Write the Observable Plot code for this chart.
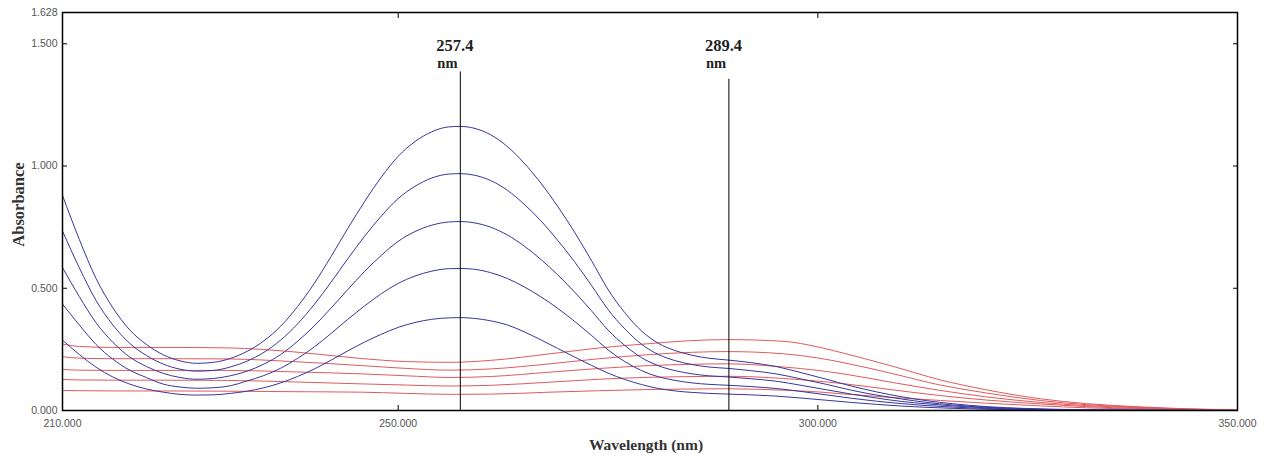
<!DOCTYPE html>
<html><head><meta charset="utf-8">
<script src="https://cdn.jsdelivr.net/npm/d3@7"></script>
<script src="https://cdn.jsdelivr.net/npm/@observablehq/plot@0.6"></script>
<style>body{margin:0;background:#fff}</style>
</head><body><div id="chart"></div>
<script>
// Wavelength grid (nm) for the blue spectra
const wavelengths = [210,212,214,216,218,220,222,224,226,228,230,232,234,236,238,240,242,244,246,248,250,252,254,256,257.4,259,261,263,265,267,269,271,273,275,277,279,281,283,285,287,289.4,292,295,298,301,304,307,310,313,316,320,325,330,340,350];
const blue1 = [0.880,0.700,0.540,0.420,0.330,0.270,0.228,0.203,0.193,0.197,0.213,0.242,0.285,0.345,0.425,0.520,0.630,0.745,0.855,0.955,1.040,1.100,1.140,1.160,1.162,1.155,1.128,1.080,1.012,0.930,0.835,0.730,0.615,0.495,0.400,0.325,0.275,0.245,0.226,0.214,0.206,0.196,0.180,0.155,0.128,0.100,0.076,0.056,0.040,0.028,0.016,0.008,0.004,0.001,0.000];
const blue2 = [0.734,0.584,0.450,0.350,0.275,0.225,0.190,0.169,0.161,0.164,0.178,0.202,0.238,0.288,0.354,0.434,0.525,0.621,0.713,0.796,0.867,0.917,0.951,0.967,0.969,0.963,0.941,0.901,0.844,0.776,0.696,0.609,0.513,0.413,0.334,0.271,0.229,0.204,0.188,0.178,0.172,0.163,0.150,0.129,0.107,0.083,0.063,0.047,0.033,0.023,0.013,0.007,0.003,0.001,0.000];
const blue3 = [0.585,0.466,0.359,0.279,0.219,0.180,0.152,0.135,0.128,0.131,0.142,0.161,0.190,0.229,0.283,0.346,0.419,0.495,0.569,0.635,0.692,0.732,0.758,0.771,0.773,0.768,0.750,0.718,0.673,0.618,0.555,0.485,0.409,0.329,0.266,0.216,0.183,0.163,0.150,0.142,0.137,0.130,0.120,0.103,0.085,0.067,0.051,0.037,0.027,0.019,0.011,0.005,0.003,0.001,0.000];
const blue4 = [0.435,0.350,0.270,0.210,0.165,0.135,0.108,0.096,0.091,0.093,0.101,0.121,0.143,0.173,0.213,0.260,0.315,0.373,0.428,0.478,0.520,0.550,0.570,0.580,0.581,0.578,0.564,0.540,0.506,0.465,0.418,0.365,0.308,0.248,0.200,0.163,0.138,0.123,0.113,0.107,0.103,0.098,0.090,0.078,0.064,0.050,0.038,0.028,0.020,0.014,0.008,0.004,0.002,0.001,0.000];
const blue5 = [0.288,0.229,0.177,0.137,0.108,0.088,0.075,0.066,0.063,0.064,0.070,0.079,0.093,0.113,0.139,0.170,0.206,0.244,0.280,0.312,0.340,0.360,0.373,0.379,0.380,0.377,0.367,0.350,0.322,0.289,0.254,0.219,0.185,0.153,0.127,0.106,0.090,0.080,0.074,0.070,0.067,0.064,0.059,0.051,0.042,0.033,0.025,0.018,0.013,0.009,0.005,0.003,0.001,0.000,0.000];

// Wavelength grid (nm) for the red spectra
const redWavelengths = [210,212,216,222,229.7,237.5,245.5,251,256.2,261,268.1,274,280.1,285,289.2,295.9,300,303,309,314.6,320,326.5,332,338.4,344,350];
const red1 = [0.272,0.262,0.258,0.258,0.256,0.240,0.213,0.200,0.197,0.205,0.232,0.256,0.274,0.286,0.290,0.283,0.260,0.235,0.180,0.125,0.085,0.048,0.028,0.015,0.007,0.003];
const red2 = [0.220,0.214,0.212,0.212,0.211,0.200,0.184,0.172,0.165,0.170,0.191,0.212,0.229,0.238,0.241,0.232,0.215,0.196,0.150,0.104,0.072,0.041,0.024,0.013,0.006,0.002];
const red3 = [0.168,0.165,0.164,0.164,0.164,0.158,0.150,0.142,0.135,0.139,0.157,0.172,0.184,0.189,0.191,0.178,0.164,0.150,0.114,0.082,0.056,0.033,0.020,0.011,0.005,0.002];
const red4 = [0.127,0.125,0.124,0.124,0.123,0.117,0.109,0.104,0.100,0.103,0.116,0.128,0.136,0.139,0.140,0.131,0.120,0.110,0.084,0.061,0.043,0.027,0.016,0.008,0.004,0.001];
const red5 = [0.082,0.081,0.080,0.080,0.079,0.077,0.075,0.070,0.066,0.067,0.075,0.081,0.086,0.088,0.089,0.083,0.076,0.068,0.053,0.041,0.030,0.019,0.011,0.006,0.003,0.001];

// Marker lines
const markerWavelengths = [257.4, 289.4];
const markerTops = [1.385, 1.355];
const markerLabelY = 1.4;

// Axis ticks
const xTicks = [210, 250, 300, 350];
const yTicks = [0, 0.5, 1.0, 1.5, 1.628];
const yInnerTicks = [0.5, 1.0, 1.5];
const xInnerTicks = [250, 300];

const blueColor = "#36369c";
const redColor = "#e05a5c";

const blueRows = [blue1, blue2, blue3, blue4, blue5].flatMap((vals, i) =>
  vals.map((v, j) => ({wavelength: wavelengths[j], absorbance: v, series: "b" + i})));
const redRows = [red1, red2, red3, red4, red5].flatMap((vals, i) =>
  vals.map((v, j) => ({wavelength: redWavelengths[j], absorbance: v, series: "r" + i})));
const markerRows = markerWavelengths.map((w, i) => ({wavelength: w, top: markerTops[i], labelY: markerLabelY}));

const serif = "'Liberation Serif', 'Times New Roman', serif";
const fmt = d3.format(".3f");

const chart = Plot.plot({
  width: 1266, height: 457,
  marginLeft: 62, marginRight: 29, marginTop: 12, marginBottom: 47,
  x: {domain: [210, 350]},
  y: {domain: [0, 1.628]},
  style: {fontFamily: "'Liberation Sans', Arial, sans-serif", background: "#fff"},
  marks: [
    Plot.line(redRows, {x: "wavelength", y: "absorbance", z: "series", stroke: redColor, strokeWidth: 1, curve: "monotone-x"}),
    Plot.line(blueRows, {x: "wavelength", y: "absorbance", z: "series", stroke: blueColor, strokeWidth: 1, curve: "monotone-x"}),
    Plot.ruleX(markerRows, {x: "wavelength", y1: 0, y2: "top", stroke: "black", strokeWidth: 1}),
    Plot.text(markerRows, {x: "wavelength", y: "labelY", text: d => d.wavelength.toFixed(1), textAnchor: "start", lineAnchor: "bottom", dx: -24, dy: -17, fontFamily: serif, fontWeight: "bold", fontSize: 16.5, fill: "#222"}),
    Plot.text(markerRows, {x: "wavelength", y: "labelY", text: () => "nm", textAnchor: "start", lineAnchor: "bottom", dx: -23, dy: 0, fontFamily: serif, fontWeight: "bold", fontSize: 14.5, fill: "#222"}),
    Plot.frame({stroke: "black", strokeWidth: 1.5}),
    Plot.axisY({anchor: "left", ticks: yTicks, tickSize: 0, tickPadding: 5, tickFormat: fmt, label: null, fill: "#555", fontSize: 10.5}),
    Plot.axisY({anchor: "left", ticks: yInnerTicks, tickSize: -5, tickFormat: () => "", label: null, stroke: "black"}),
    Plot.axisY({anchor: "right", ticks: yInnerTicks, tickSize: -5, tickFormat: () => "", label: null, stroke: "black"}),
    Plot.axisX({anchor: "bottom", ticks: xTicks, tickSize: 0, tickPadding: 9, tickFormat: fmt, label: null, fill: "#555", fontSize: 10.5}),
    Plot.axisX({anchor: "bottom", ticks: xInnerTicks, tickSize: -5, tickFormat: () => "", label: null, stroke: "black"}),
    Plot.axisX({anchor: "top", ticks: xInnerTicks, tickSize: -5, tickFormat: () => "", label: null, stroke: "black"}),
    Plot.text(["Wavelength (nm)"], {frameAnchor: "bottom", text: d => d, textAnchor: "middle", dx: -4, dy: 35, lineAnchor: "middle", fontFamily: serif, fontWeight: "bold", fontSize: 15.5, fill: "#333"}),
    Plot.text(["Absorbance"], {frameAnchor: "left", text: d => d, textAnchor: "middle", rotate: -90, dx: -44, dy: -7, lineAnchor: "middle", fontFamily: serif, fontWeight: "bold", fontSize: 16.5, fill: "#333"})
  ]
});
document.getElementById("chart").append(chart);
</script>
</body></html>
